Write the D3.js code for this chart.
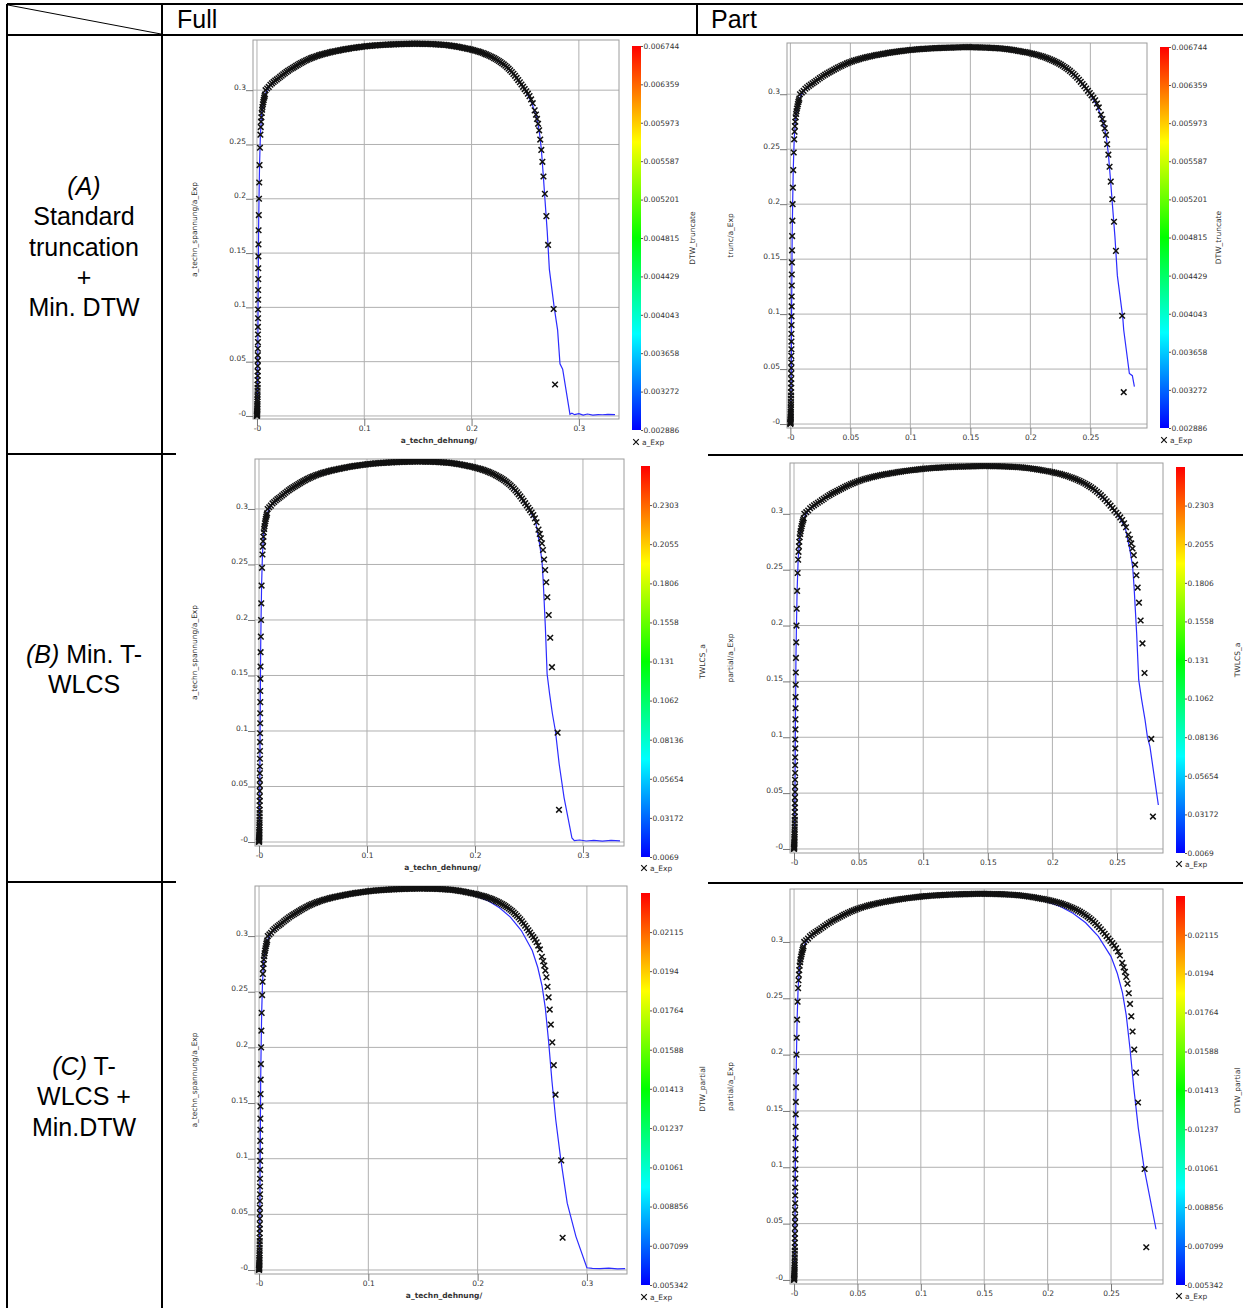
<!DOCTYPE html>
<html>
<head>
<meta charset="utf-8">
<script src="https://cdn.jsdelivr.net/npm/d3@7"></script>
<style>
  body { margin: 0; background: #fff; }
</style>
</head>
<body>
<div id="chart"></div>
<script>
// ---- experimental data (a_Exp), same for all six plots ----
// elastic rise, dense plastic band, then the sparse drop
var expStrain = [
  0.0000, 0.0000, 0.0001, 0.0001, 0.0001, 0.0002, 0.0002, 0.0002, 0.0003, 0.0003,
  0.0003, 0.0004, 0.0004, 0.0004, 0.0005, 0.0005, 0.0005, 0.0006, 0.0006, 0.0006,
  0.0007, 0.0007, 0.0007, 0.0008, 0.0008, 0.0008, 0.0009, 0.0009, 0.0009, 0.0010,
  0.0010, 0.0011, 0.0011, 0.0012, 0.0012, 0.0013, 0.0014, 0.0015, 0.0017, 0.0019,
  0.0021, 0.0024, 0.0028, 0.0032, 0.0035, 0.0038, 0.0041, 0.0044, 0.0048, 0.0051,
  0.0055, 0.0059, 0.0063, 0.0067, 0.0071, 0.0075,
  0.0080, 0.0095, 0.0110, 0.0125, 0.0140, 0.0155, 0.0170, 0.0185, 0.0200, 0.0215,
  0.0230, 0.0245, 0.0260, 0.0275, 0.0290, 0.0305, 0.0320, 0.0335, 0.0350, 0.0365,
  0.0380, 0.0395, 0.0410, 0.0425, 0.0440, 0.0455, 0.0470, 0.0485, 0.0500, 0.0515,
  0.0530, 0.0545, 0.0560, 0.0575, 0.0590, 0.0605, 0.0620, 0.0635, 0.0650, 0.0665,
  0.0680, 0.0695, 0.0710, 0.0725, 0.0740, 0.0755, 0.0770, 0.0785, 0.0800, 0.0815,
  0.0830, 0.0845, 0.0860, 0.0875, 0.0890, 0.0905, 0.0920, 0.0935, 0.0950, 0.0965,
  0.0980, 0.0995, 0.1010, 0.1025, 0.1040, 0.1055, 0.1070, 0.1085, 0.1100, 0.1115,
  0.1130, 0.1145, 0.1160, 0.1175, 0.1190, 0.1205, 0.1220, 0.1235, 0.1250, 0.1265,
  0.1280, 0.1295, 0.1310, 0.1325, 0.1340, 0.1355, 0.1370, 0.1385, 0.1400, 0.1415,
  0.1430, 0.1445, 0.1460, 0.1475, 0.1490, 0.1505, 0.1520, 0.1535, 0.1550, 0.1565,
  0.1580, 0.1595, 0.1610, 0.1625, 0.1640, 0.1655, 0.1670, 0.1685, 0.1700, 0.1715,
  0.1730, 0.1745, 0.1760, 0.1775, 0.1790, 0.1805, 0.1820, 0.1835, 0.1850, 0.1865,
  0.1880, 0.1895, 0.1910, 0.1925, 0.1940, 0.1955, 0.1970, 0.1985, 0.2000, 0.2015,
  0.2030, 0.2045, 0.2060, 0.2075, 0.2090, 0.2105, 0.2120, 0.2135, 0.2150, 0.2165,
  0.2180, 0.2195, 0.2210, 0.2225, 0.2240, 0.2255, 0.2270, 0.2285, 0.2300, 0.2315,
  0.2330, 0.2345, 0.2360, 0.2375, 0.2390, 0.2405, 0.2420, 0.2435, 0.2450, 0.2465,
  0.2480, 0.2495, 0.2510, 0.2525, 0.2540, 0.2555, 0.2570,
  0.2588, 0.2600, 0.2610, 0.2620, 0.2630, 0.2640, 0.2650, 0.2660, 0.2670, 0.2683,
  0.2697, 0.2713, 0.2765, 0.2778
];
var expStress = [
  0.0000, 0.0005, 0.0010, 0.0015, 0.0020, 0.0030, 0.0040, 0.0050, 0.0065, 0.0080,
  0.0095, 0.0110, 0.0130, 0.0150, 0.0175, 0.0200, 0.0230, 0.0260, 0.0290, 0.0330,
  0.0370, 0.0410, 0.0460, 0.0510, 0.0560, 0.0620, 0.0680, 0.0750, 0.0820, 0.0900,
  0.0980, 0.1070, 0.1160, 0.1260, 0.1360, 0.1470, 0.1580, 0.1710, 0.1850, 0.2000,
  0.2150, 0.2310, 0.2470, 0.2590, 0.2660, 0.2710, 0.2750, 0.2790, 0.2820, 0.2845,
  0.2870, 0.2890, 0.2910, 0.2930, 0.2945, 0.2960,
  0.3000, 0.3015, 0.3030, 0.3050, 0.3063, 0.3076, 0.3088, 0.3099, 0.3110, 0.3122,
  0.3134, 0.3146, 0.3157, 0.3168, 0.3178, 0.3188, 0.3197, 0.3206, 0.3215, 0.3224,
  0.3233, 0.3242, 0.3250, 0.3258, 0.3266, 0.3273, 0.3280, 0.3287, 0.3293, 0.3299,
  0.3305, 0.3310, 0.3315, 0.3320, 0.3325, 0.3329, 0.3333, 0.3337, 0.3341, 0.3345,
  0.3348, 0.3352, 0.3355, 0.3358, 0.3361, 0.3364, 0.3367, 0.3370, 0.3373, 0.3376,
  0.3378, 0.3381, 0.3383, 0.3386, 0.3388, 0.3390, 0.3392, 0.3394, 0.3396, 0.3398,
  0.3400, 0.3402, 0.3404, 0.3405, 0.3407, 0.3408, 0.3410, 0.3411, 0.3412, 0.3413,
  0.3414, 0.3415, 0.3416, 0.3417, 0.3418, 0.3419, 0.3420, 0.3420, 0.3421, 0.3422,
  0.3422, 0.3423, 0.3423, 0.3424, 0.3424, 0.3425, 0.3425, 0.3425, 0.3426, 0.3427,
  0.3427, 0.3427, 0.3428, 0.3428, 0.3428, 0.3427, 0.3427, 0.3427, 0.3426, 0.3426,
  0.3426, 0.3425, 0.3425, 0.3424, 0.3424, 0.3423, 0.3422, 0.3421, 0.3420, 0.3419,
  0.3418, 0.3417, 0.3416, 0.3414, 0.3412, 0.3410, 0.3408, 0.3406, 0.3403, 0.3401,
  0.3398, 0.3395, 0.3392, 0.3389, 0.3386, 0.3383, 0.3380, 0.3377, 0.3373, 0.3369,
  0.3365, 0.3361, 0.3357, 0.3352, 0.3347, 0.3342, 0.3336, 0.3330, 0.3324, 0.3317,
  0.3310, 0.3303, 0.3295, 0.3287, 0.3278, 0.3269, 0.3259, 0.3248, 0.3237, 0.3225,
  0.3212, 0.3198, 0.3183, 0.3167, 0.3150, 0.3132, 0.3113, 0.3093, 0.3073, 0.3052,
  0.3031, 0.3010, 0.2990, 0.2968, 0.2945, 0.2915, 0.2880,
  0.2814, 0.2775, 0.2735, 0.2690, 0.2630, 0.2545, 0.2450, 0.2340, 0.2205, 0.2045,
  0.1840, 0.1575, 0.0985, 0.0290
];

// ---- simulated curves (blue lines), [strain, stress] ----
var simHead = [
  [0, 0], [0.0002, 0.005], [0.0005, 0.02], [0.0008, 0.05], [0.001, 0.098], [0.0012, 0.126],
  [0.0015, 0.171], [0.0019, 0.2], [0.0024, 0.231], [0.0032, 0.259], [0.0044, 0.279],
  [0.0059, 0.289], [0.0075, 0.296], [0.011, 0.303], [0.02, 0.311], [0.03, 0.3188],
  [0.04, 0.3245], [0.05, 0.3293], [0.06, 0.3328], [0.07, 0.3354], [0.08, 0.3373],
  [0.09, 0.3388], [0.1, 0.3403], [0.12, 0.3419], [0.14, 0.3426], [0.15, 0.3427],
  [0.16, 0.3425], [0.17, 0.342], [0.18, 0.3411], [0.19, 0.3395]
];
var simTailAFull = [
  [0.2, 0.3373], [0.21, 0.334], [0.22, 0.3297], [0.23, 0.3237], [0.24, 0.3138], [0.25, 0.3],
  [0.256, 0.2885], [0.2605, 0.2755], [0.263, 0.263], [0.265, 0.246], [0.2668, 0.222],
  [0.2685, 0.198], [0.2705, 0.17], [0.2725, 0.135], [0.277, 0.1], [0.2802, 0.079],
  [0.2824, 0.048], [0.2849, 0.043], [0.2917, 0.0016], [0.2935, 0.0025], [0.296, 0.0012],
  [0.3, 0.0022], [0.304, 0.0008], [0.308, 0.0018], [0.313, 0.0007], [0.318, 0.0013],
  [0.322, 0.0011], [0.327, 0.0014], [0.3337, 0.0012]
];
var simTailAPart = [
  [0.2, 0.3373], [0.21, 0.334], [0.22, 0.3297], [0.23, 0.3237], [0.24, 0.3138], [0.25, 0.3],
  [0.256, 0.2885], [0.2605, 0.2755], [0.263, 0.263], [0.265, 0.246], [0.2668, 0.222],
  [0.2685, 0.198], [0.2705, 0.17], [0.2725, 0.135], [0.277, 0.097], [0.2778, 0.0855],
  [0.2825, 0.046], [0.285, 0.044], [0.2867, 0.034]
];
var simTailBFull = [
  [0.2, 0.3373], [0.21, 0.334], [0.22, 0.3295], [0.23, 0.3237], [0.24, 0.3135], [0.25, 0.3],
  [0.2562, 0.2885], [0.26, 0.2677], [0.2621, 0.2527], [0.2632, 0.2348], [0.2642, 0.214],
  [0.2652, 0.1931], [0.266, 0.1722], [0.2668, 0.1513], [0.2691, 0.1334], [0.2717, 0.1155],
  [0.2745, 0.1], [0.278, 0.07], [0.2825, 0.04], [0.2898, 0.0036], [0.292, 0.0012],
  [0.297, 0.0018], [0.303, 0.0009], [0.31, 0.0015], [0.318, 0.0008], [0.326, 0.0014],
  [0.3343, 0.0011]
];
var simTailBPart = [
  [0.2, 0.3373], [0.21, 0.334], [0.22, 0.3295], [0.23, 0.3237], [0.24, 0.3135], [0.25, 0.3],
  [0.2562, 0.2885], [0.26, 0.2677], [0.2621, 0.2527], [0.2632, 0.2348], [0.2642, 0.214],
  [0.2652, 0.1931], [0.266, 0.1722], [0.2668, 0.1513], [0.2691, 0.1334], [0.2717, 0.1155],
  [0.2735, 0.1005], [0.2755, 0.0916], [0.282, 0.0394]
];
var simTailCFull = [
  [0.2, 0.3355], [0.21, 0.3315], [0.22, 0.3255], [0.23, 0.317], [0.24, 0.305], [0.25, 0.287],
  [0.255, 0.272], [0.259, 0.255], [0.262, 0.235], [0.265, 0.205], [0.268, 0.17],
  [0.2715, 0.135], [0.276, 0.1], [0.282, 0.06], [0.29, 0.03], [0.3, 0.002], [0.305, 0.0015],
  [0.312, 0.0012], [0.32, 0.0016], [0.328, 0.001], [0.335, 0.0013]
];
var simTailCPart = [
  [0.2, 0.3355], [0.21, 0.3315], [0.22, 0.3255], [0.23, 0.317], [0.24, 0.305], [0.25, 0.287],
  [0.255, 0.272], [0.259, 0.255], [0.262, 0.235], [0.265, 0.205], [0.268, 0.17],
  [0.2715, 0.135], [0.276, 0.1], [0.2855, 0.045]
];

// ---- axis ticks ----
var yTickValues = [0, 0.05, 0.1, 0.15, 0.2, 0.25, 0.3];
var yTickLabels = ['-0', '0.05', '0.1', '0.15', '0.2', '0.25', '0.3'];
var xTickValuesFull = [0, 0.1, 0.2, 0.3];
var xTickLabelsFull = ['-0', '0.1', '0.2', '0.3'];
var xTickValuesPart = [0, 0.05, 0.1, 0.15, 0.2, 0.25];
var xTickLabelsPart = ['-0', '0.05', '0.1', '0.15', '0.2', '0.25'];

// ---- colour bars ----
var cbTicksA = [0.006744, 0.006359, 0.005973, 0.005587, 0.005201, 0.004815, 0.004429, 0.004043, 0.003658, 0.003272, 0.002886];
var cbRangeA = [0.002886, 0.006744];
var cbTicksB = [0.2303, 0.2055, 0.1806, 0.1558, 0.131, 0.1062, 0.08136, 0.05654, 0.03172, 0.0069];
var cbRangeB = [0.0069, 0.2551];
var cbTicksC = [0.02115, 0.0194, 0.01764, 0.01588, 0.01413, 0.01237, 0.01061, 0.008856, 0.007099, 0.005342];
var cbRangeC = [0.005342, 0.0229];

// ---- table text ----
var headers = ['Full', 'Part'];
var rowLabels = [
  [[['(A)', true]], [['Standard', false]], [['truncation', false]], [['+', false]], [['Min. DTW', false]]],
  [[['(B)', true], [' Min. T-', false]], [['WLCS', false]]],
  [[['(C)', true], [' T-', false]], [['WLCS +', false]], [['Min.DTW', false]]]
];

var W = 1243, H = 1308;
var svg = d3.select('#chart').append('svg')
  .attr('width', W)
  .attr('height', H)
  .style('font-family', '"DejaVu Sans", sans-serif');

var expPts = expStrain.map(function(s, i) { return [s, expStress[i]]; });

// layout of each panel (pixel boxes)
var panels = [
  { id: 'af', box: [253, 40, 619, 419], xd: [-0.0037, 0.3374], yd: [-0.0028, 0.3462], full: true,
    sim: simHead.concat(simTailAFull), cb: [632, 46, 641, 430], cbTicks: cbTicksA, cbRange: cbRangeA,
    cbTitle: 'DTW_truncate', cbTitleX: 695, yTitle: 'a_techn_spannung/a_Exp', yTitleX: 197, legend: [636, 442] },
  { id: 'ap', box: [787, 43, 1147, 428], xd: [-0.0028, 0.2972], yd: [-0.0036, 0.3466], full: false,
    sim: simHead.concat(simTailAPart), cb: [1160, 47, 1169, 428], cbTicks: cbTicksA, cbRange: cbRangeA,
    cbTitle: 'DTW_truncate', cbTitleX: 1221, yTitle: 'trunc/a_Exp', yTitleX: 733, legend: [1164, 440] },
  { id: 'bf', box: [255, 459, 624, 846], xd: [-0.0037, 0.338], yd: [-0.0036, 0.345], full: true,
    sim: simHead.concat(simTailBFull), cb: [641, 466, 650, 857], cbTicks: cbTicksB, cbRange: cbRangeB,
    cbTitle: 'TWLCS_a', cbTitleX: 705, yTitle: 'a_techn_spannung/a_Exp', yTitleX: 197, legend: [644, 868] },
  { id: 'bp', box: [790, 463, 1163, 853], xd: [-0.0031, 0.2856], yd: [-0.0036, 0.3455], full: false,
    sim: simHead.concat(simTailBPart), cb: [1176, 467, 1185, 853], cbTicks: cbTicksB, cbRange: cbRangeB,
    cbTitle: 'TWLCS_a', cbTitleX: 1240, yTitle: 'partial/a_Exp', yTitleX: 733, legend: [1179, 864] },
  { id: 'cf', box: [255, 886, 627, 1274], xd: [-0.0037, 0.3367], yd: [-0.0036, 0.345], full: true,
    sim: simHead.concat(simTailCFull), cb: [641, 893, 650, 1285], cbTicks: cbTicksC, cbRange: cbRangeC,
    cbTitle: 'DTW_partial', cbTitleX: 705, yTitle: 'a_techn_spannung/a_Exp', yTitleX: 197, legend: [644, 1297] },
  { id: 'cp', box: [790, 889, 1163, 1284], xd: [-0.0032, 0.291], yd: [-0.0036, 0.347], full: false,
    sim: simHead.concat(simTailCPart), cb: [1176, 896, 1185, 1285], cbTicks: cbTicksC, cbRange: cbRangeC,
    cbTitle: 'DTW_partial', cbTitleX: 1240, yTitle: 'partial/a_Exp', yTitleX: 733, legend: [1179, 1296] }
];

var defs = svg.append('defs');
var crossPath = 'M-2.8,-2.8L2.8,2.8M-2.8,2.8L2.8,-2.8';

function drawPanel(p) {
  var L = p.box[0], T = p.box[1], R = p.box[2], B = p.box[3];
  var x = d3.scaleLinear().domain(p.xd).range([L, R]);
  var y = d3.scaleLinear().domain(p.yd).range([B, T]);
  var xTicks = p.full ? xTickValuesFull : xTickValuesPart;
  var xLabels = p.full ? xTickLabelsFull : xTickLabelsPart;
  var g = svg.append('g');

  // grid
  g.append('g').selectAll('line').data(xTicks).join('line')
    .attr('x1', function(d) { return x(d); }).attr('x2', function(d) { return x(d); })
    .attr('y1', T).attr('y2', B)
    .attr('stroke', '#b0b0b0');
  g.append('g').selectAll('line').data(yTickValues).join('line')
    .attr('x1', L).attr('x2', R)
    .attr('y1', function(d) { return y(d); }).attr('y2', function(d) { return y(d); })
    .attr('stroke', '#b0b0b0');

  g.append('rect')
    .attr('x', L).attr('y', T).attr('width', R - L).attr('height', B - T)
    .attr('fill', 'none').attr('stroke', '#9c9c9c');

  // axes
  var yAxis = d3.axisLeft(y).tickValues(yTickValues)
    .tickFormat(function(d, i) { return yTickLabels[i]; })
    .tickSize(7).tickPadding(0);
  g.append('g').attr('transform', 'translate(' + L + ',0)').call(yAxis)
    .call(function(a) {
      a.select('.domain').remove();
      a.attr('font-family', null).attr('font-size', null);
      a.selectAll('line').attr('stroke', '#777');
      a.selectAll('text').attr('dy', '-0.12em').attr('fill', '#333').style('font-size', '7.5px');
    });

  var xAxis = d3.axisBottom(x).tickValues(xTicks)
    .tickFormat(function(d, i) { return xLabels[i]; })
    .tickSize(7).tickPadding(0);
  g.append('g').attr('transform', 'translate(0,' + B + ')').call(xAxis)
    .call(function(a) {
      a.select('.domain').remove();
      a.attr('font-family', null).attr('font-size', null);
      a.selectAll('line').attr('stroke', '#777');
      a.selectAll('text').attr('fill', '#333').style('font-size', '7.5px');
    });

  // data
  defs.append('clipPath').attr('id', 'clip-' + p.id)
    .append('rect').attr('x', L).attr('y', T).attr('width', R - L).attr('height', B - T);
  var plot = g.append('g').attr('clip-path', 'url(#clip-' + p.id + ')');

  var line = d3.line().x(function(d) { return x(d[0]); }).y(function(d) { return y(d[1]); });
  plot.append('path').datum(p.sim)
    .attr('d', line).attr('fill', 'none')
    .attr('stroke', '#2c2cff').attr('stroke-width', 1.2);

  plot.append('g').selectAll('path').data(expPts).join('path')
    .attr('d', crossPath)
    .attr('transform', function(d) { return 'translate(' + x(d[0]) + ',' + y(d[1]) + ')'; })
    .attr('stroke', '#111').attr('stroke-width', 1.5).attr('fill', 'none');

  // titles
  g.append('text')
    .attr('transform', 'translate(' + p.yTitleX + ',' + ((T + B) / 2) + ') rotate(-90)')
    .attr('text-anchor', 'middle').attr('fill', '#333').style('font-size', '7.5px')
    .text(p.yTitle);
  if (p.full) {
    g.append('text')
      .attr('x', (L + R) / 2 + 3).attr('y', B + 24)
      .attr('text-anchor', 'middle').attr('fill', '#333')
      .style('font-size', '7.5px').style('font-weight', 'bold')
      .text('a_techn_dehnung/');
  }

  // colour bar
  var gid = 'grad-' + p.id;
  var grad = defs.append('linearGradient').attr('id', gid)
    .attr('x1', 0).attr('y1', 1).attr('x2', 0).attr('y2', 0);
  d3.range(0, 1.0001, 0.05).forEach(function(t) {
    grad.append('stop').attr('offset', t).attr('stop-color', d3.hsl(240 * (1 - t), 1, 0.5).formatHex());
  });
  var cx0 = p.cb[0], cy0 = p.cb[1], cx1 = p.cb[2], cy1 = p.cb[3];
  g.append('rect')
    .attr('x', cx0).attr('y', cy0).attr('width', cx1 - cx0).attr('height', cy1 - cy0)
    .attr('fill', 'url(#' + gid + ')');
  var cscale = d3.scaleLinear().domain(p.cbRange).range([cy1, cy0]);
  var cAxis = d3.axisRight(cscale).tickValues(p.cbTicks)
    .tickFormat(function(d) { return String(d); })
    .tickSize(2).tickPadding(0.5);
  g.append('g').attr('transform', 'translate(' + cx1 + ',0)').call(cAxis)
    .call(function(a) {
      a.select('.domain').remove();
      a.attr('font-family', null).attr('font-size', null);
      a.selectAll('line').attr('stroke', '#555');
      a.selectAll('text').attr('fill', '#333').style('font-size', '7.5px');
    });
  g.append('text')
    .attr('transform', 'translate(' + p.cbTitleX + ',' + ((cy0 + cy1) / 2) + ') rotate(-90)')
    .attr('text-anchor', 'middle').attr('fill', '#333').style('font-size', '7.5px')
    .text(p.cbTitle);

  // legend
  g.append('path').attr('d', crossPath)
    .attr('transform', 'translate(' + p.legend[0] + ',' + p.legend[1] + ')')
    .attr('stroke', '#111').attr('stroke-width', 1.2);
  g.append('text').attr('x', p.legend[0] + 6).attr('y', p.legend[1] + 2.7)
    .attr('fill', '#333').style('font-size', '7.5px').text('a_Exp');
}

panels.forEach(drawPanel);

// ---- table frame ----
var rules = [
  [7, 4, 1243, 4], [7, 35, 1243, 35], [7, 4, 7, 1308], [162, 4, 162, 1308], [697, 4, 697, 35],
  [7, 454, 176, 454], [708, 455, 1243, 455], [7, 882, 176, 882], [708, 883, 1243, 883]
];
svg.append('g').selectAll('line').data(rules).join('line')
  .attr('x1', function(d) { return d[0]; }).attr('y1', function(d) { return d[1]; })
  .attr('x2', function(d) { return d[2]; }).attr('y2', function(d) { return d[3]; })
  .attr('stroke', '#000').attr('stroke-width', 2);
svg.append('line').attr('x1', 8).attr('y1', 5).attr('x2', 161).attr('y2', 34)
  .attr('stroke', '#000').attr('stroke-width', 1);

svg.append('g').selectAll('text').data(headers).join('text')
  .attr('x', function(d, i) { return i === 0 ? 177 : 711; })
  .attr('y', 28)
  .style('font-family', '"Liberation Sans", Arial, sans-serif')
  .style('font-size', '25px')
  .text(function(d) { return d; });

var rowFirstBaseline = [195, 663, 1075];
rowLabels.forEach(function(lines, r) {
  lines.forEach(function(parts, k) {
    var t = svg.append('text')
      .attr('x', 84).attr('y', rowFirstBaseline[r] + k * 30.3)
      .attr('text-anchor', 'middle')
      .style('font-family', '"Liberation Sans", Arial, sans-serif')
      .style('font-size', '25px');
    parts.forEach(function(pt) {
      t.append('tspan').style('font-style', pt[1] ? 'italic' : 'normal').text(pt[0]);
    });
  });
});
</script>
</body>
</html>
